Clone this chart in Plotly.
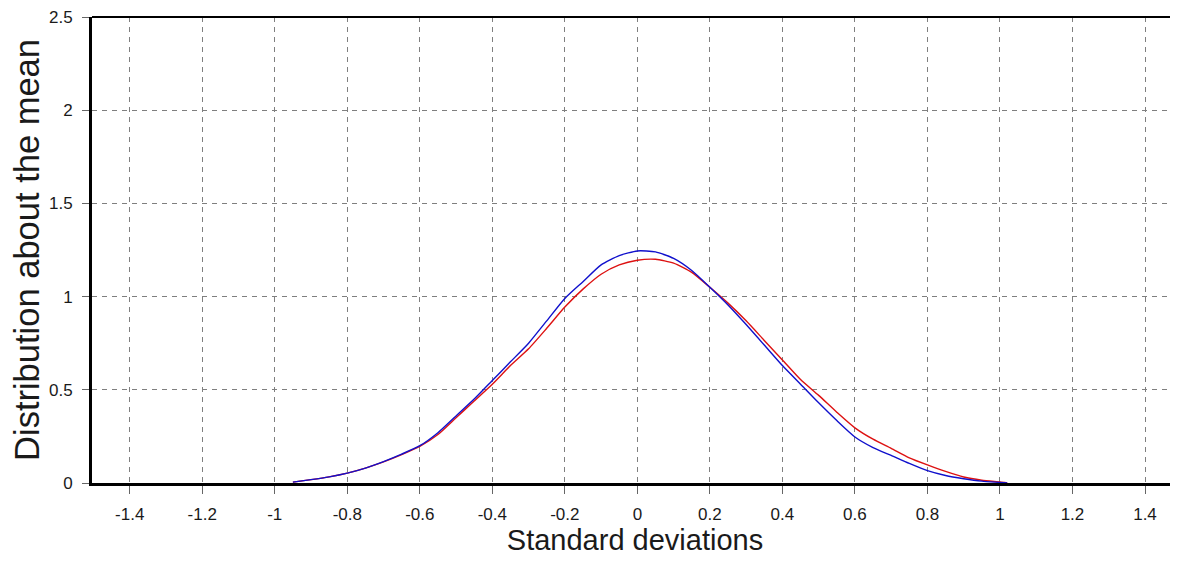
import plotly.graph_objects as go

# Data
x_vals = [-0.95, -0.9, -0.85, -0.8, -0.75, -0.7, -0.65, -0.6, -0.55, -0.5, -0.45, -0.4,
          -0.35, -0.3, -0.25, -0.2, -0.15, -0.1, -0.05, 0.0, 0.05, 0.1, 0.15, 0.2, 0.25,
          0.3, 0.35, 0.4, 0.45, 0.5, 0.55, 0.6, 0.65, 0.7, 0.75, 0.8, 0.85, 0.9, 0.95, 1.0, 1.02]
blue_vals = [0.005, 0.018, 0.033, 0.053, 0.08, 0.115, 0.155, 0.2, 0.27, 0.36, 0.45, 0.55,
             0.65, 0.75, 0.87, 0.99, 1.08, 1.17, 1.22, 1.245, 1.24, 1.205, 1.14, 1.05, 0.955,
             0.85, 0.74, 0.63, 0.53, 0.43, 0.335, 0.247, 0.19, 0.148, 0.105, 0.066, 0.04,
             0.023, 0.01, 0.003, 0.0]
red_vals = [0.005, 0.018, 0.033, 0.053, 0.08, 0.113, 0.152, 0.196, 0.26, 0.35, 0.44, 0.53,
            0.63, 0.72, 0.83, 0.944, 1.04, 1.12, 1.17, 1.195, 1.2, 1.18, 1.13, 1.05, 0.965,
            0.87, 0.765, 0.66, 0.555, 0.47, 0.38, 0.296, 0.235, 0.186, 0.135, 0.097, 0.062,
            0.032, 0.015, 0.005, 0.0]

x_tickvals = [-1.4, -1.2, -1.0, -0.8, -0.6, -0.4, -0.2, 0.0, 0.2, 0.4, 0.6, 0.8, 1.0, 1.2, 1.4]
x_ticktext = ["-1.4", "-1.2", "-1", "-0.8", "-0.6", "-0.4", "-0.2", "0", "0.2", "0.4",
              "0.6", "0.8", "1", "1.2", "1.4"]
y_tickvals = [0, 0.5, 1, 1.5, 2, 2.5]
y_ticktext = ["0", "0.5", "1", "1.5", "2", "2.5"]

FONT = "Liberation Sans, Arial, sans-serif"
TXT = "#1a1a1a"

fig = go.Figure()
fig.add_trace(go.Scatter(x=x_vals, y=red_vals, mode="lines",
                         line=dict(color="#dd1111", width=1.4, shape="spline", smoothing=0.6),
                         showlegend=False))
fig.add_trace(go.Scatter(x=x_vals, y=blue_vals, mode="lines",
                         line=dict(color="#1010cc", width=1.4, shape="spline", smoothing=0.6),
                         showlegend=False))

grid_common = dict(showgrid=True, gridcolor="#7f7f7f", gridwidth=1, griddash="5px,5px",
                   zeroline=False)

fig.update_xaxes(range=[-1.504, 1.491], tickvals=x_tickvals, ticktext=x_ticktext,
                 ticks="outside", ticklen=8, tickcolor="#666", tickwidth=1,
                 ticklabelstandoff=6,
                 showline=True, linecolor="black", linewidth=3,
                 tickfont=dict(family=FONT, size=17, color=TXT),
                 title=dict(text="Standard deviations", standoff=2,
                            font=dict(family=FONT, size=29, color=TXT)),
                 **grid_common)
fig.update_yaxes(range=[0, 2.5], tickvals=y_tickvals, ticktext=y_ticktext,
                 ticks="outside", ticklen=7, tickcolor="#666", tickwidth=1,
                 ticklabelstandoff=6, ticklabeloverflow="allow",
                 showline=True, linecolor="black", linewidth=3,
                 tickfont=dict(family=FONT, size=17, color=TXT),
                 title=dict(text="Distribution about the mean", standoff=8,
                            font=dict(family=FONT, size=34.5, color=TXT)),
                 **grid_common)

fig.add_shape(type="line", xref="paper", yref="paper", x0=0, x1=1, y0=1, y1=1,
              line=dict(color="black", width=2))

# page body has an 8px margin, so the figure is sized to end at the window edge
fig.update_layout(width=1170, height=554, autosize=False,
                  margin=dict(l=84, r=0, t=9, b=79),
                  plot_bgcolor="white", paper_bgcolor="white",
                  font=dict(family=FONT, color=TXT))

fig.write_html("out.html")
